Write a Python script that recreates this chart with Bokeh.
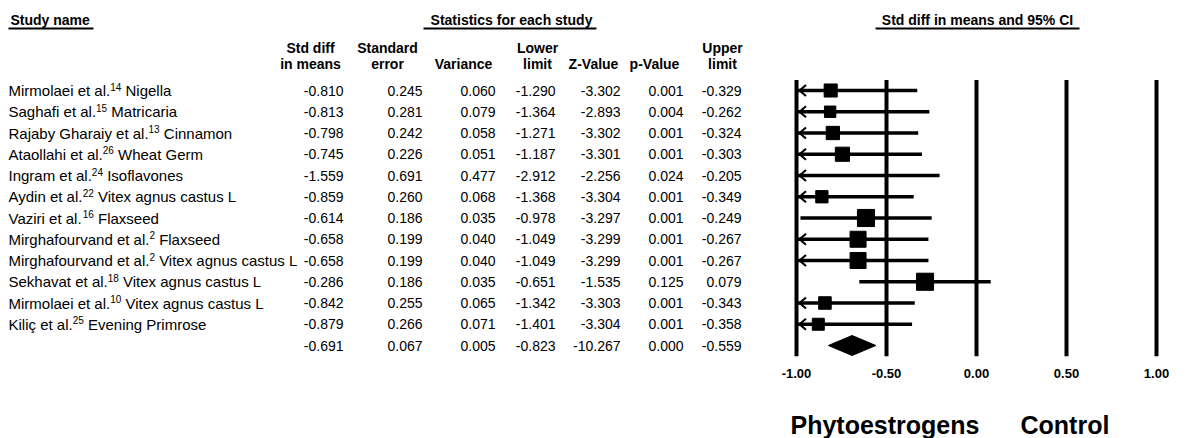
import math
from bokeh.plotting import figure
from bokeh.models import Range1d
from bokeh.core.properties import value
from bokeh.embed import file_html
from bokeh.resources import INLINE

# ---------------- data ----------------
study_authors = [
    "Mirmolaei et al.", "Saghafi et al.", "Rajaby Gharaiy et al.", "Ataollahi et al.",
    "Ingram et al.", "Aydin et al.", "Vaziri et al.", "Mirghafourvand et al.",
    "Mirghafourvand et al.", "Sekhavat et al.", "Mirmolaei et al.", "Kili\u00e7 et al.",
]
study_refs = ["14", "15", "13", "26", "24", "22", "16", "2", "2", "18", "10", "25"]
study_agents = [
    "Nigella", "Matricaria", "Cinnamon", "Wheat Germ", "Isoflavones",
    "Vitex agnus castus L", "Flaxseed", "Flaxseed", "Vitex agnus castus L",
    "Vitex agnus castus L", "Vitex agnus castus L", "Evening Primrose",
]
std_diff = [-0.810, -0.813, -0.798, -0.745, -1.559, -0.859, -0.614, -0.658, -0.658, -0.286, -0.842, -0.879]
std_err = [0.245, 0.281, 0.242, 0.226, 0.691, 0.260, 0.186, 0.199, 0.199, 0.186, 0.255, 0.266]
variance = [0.060, 0.079, 0.058, 0.051, 0.477, 0.068, 0.035, 0.040, 0.040, 0.035, 0.065, 0.071]
lower_limit = [-1.290, -1.364, -1.271, -1.187, -2.912, -1.368, -0.978, -1.049, -1.049, -0.651, -1.342, -1.401]
z_value = [-3.302, -2.893, -3.302, -3.301, -2.256, -3.304, -3.297, -3.299, -3.299, -1.535, -3.303, -3.304]
p_value = [0.001, 0.004, 0.001, 0.001, 0.024, 0.001, 0.001, 0.001, 0.001, 0.125, 0.001, 0.001]
upper_limit = [-0.329, -0.262, -0.324, -0.303, -0.205, -0.349, -0.249, -0.267, -0.267, 0.079, -0.343, -0.358]

summary_std_diff = -0.691
summary_std_err = 0.067
summary_variance = 0.005
summary_lower = -0.823
summary_z = -10.267
summary_p = 0.000
summary_upper = -0.559

ticks = [-1.0, -0.5, 0.0, 0.5, 1.0]
header_line1 = ["Std diff", "Standard", "", "Lower", "", "", "Upper"]
header_line2 = ["in means", "error", "Variance", "limit", "Z-Value", "p-Value", "limit"]
section_titles = ["Study name", "Statistics for each study", "Std diff in means and 95% CI"]
bottom_labels = ["Phytoestrogens", "Control"]

# ---------------- layout constants ----------------
W, H = 1195, 438
OX, OY = 0, 0
X_AT_MIN = 796.0      # page px of first tick
PX_PER_UNIT = 180.0
ROW0_Y = 90.0
ROW_STEP = 21.25
NAME_PX = 15.0
SUP_PX = 10.0

FONT = value("Liberation Sans")
BLACK = "#000000"

# Arial / Liberation Sans advance widths (per 1000 em) for measuring name prefixes
ARIAL_W = {
    "M": 833, "i": 222, "r": 333, "m": 833, "o": 556, "l": 222, "a": 556, "e": 556,
    "t": 278, " ": 278, ".": 278, "S": 667, "g": 556, "h": 556, "f": 278, "R": 722,
    "j": 222, "b": 556, "y": 500, "G": 778, "A": 667, "I": 278, "n": 556, "d": 556,
    "V": 667, "z": 500, "k": 500, "v": 500, "K": 667, "\u00e7": 500, "u": 556,
    "0": 556, "1": 556, "2": 556, "3": 556, "4": 556, "5": 556, "6": 556, "7": 556,
    "8": 556, "9": 556,
}


def text_width(s, size):
    return sum(ARIAL_W.get(c, 556) for c in s) * size / 1000.0


x_min = ticks[0]
xr = Range1d(x_min + (OX - X_AT_MIN) / PX_PER_UNIT, x_min + (OX + W - X_AT_MIN) / PX_PER_UNIT)
yr = Range1d((OY + H - ROW0_Y) / ROW_STEP, (OY - ROW0_Y) / ROW_STEP)

p = figure(width=W, height=H, x_range=xr, y_range=yr, output_backend="svg",
           toolbar_location=None, x_axis_location=None, y_axis_location=None,
           min_border=0, outline_line_color=None,
           background_fill_color="white", border_fill_color="white")
p.xgrid.grid_line_color = None
p.ygrid.grid_line_color = None
p.extra_x_ranges = {"px": Range1d(OX, OX + W)}
p.extra_y_ranges = {"py": Range1d(OY + H, OY)}

n = len(std_diff)
rows = list(range(n))

# ---------------- section titles ----------------
title_x = [10, 511, 977]
title_align = ["left", "center", "center"]
for t, x, a in zip(section_titles, title_x, title_align):
    p.text(x=[x], y=[19], text=[t], x_range_name="px", y_range_name="py",
           text_font=FONT, text_font_style="bold", text_font_size=value("14px"),
           text_align=a, text_baseline="middle", text_color=BLACK)
p.segment(x0=[8, 423, 875], x1=[93, 596, 1079], y0=[28, 28, 28], y1=[28, 28, 28],
          x_range_name="px", y_range_name="py", line_width=2, line_color=BLACK)

# ---------------- column headers ----------------
col_center_x = [310, 387, 463, 537, 593, 654, 722]
col_right_x = [343, 422, 495, 555, 620, 683, 741]
p.text(x=col_center_x, y=[47] * 7, text=header_line1, x_range_name="px", y_range_name="py",
       text_font=FONT, text_font_style="bold", text_font_size=value("14px"),
       text_align="center", text_baseline="middle", text_color=BLACK)
p.text(x=col_center_x, y=[63] * 7, text=header_line2, x_range_name="px", y_range_name="py",
       text_font=FONT, text_font_style="bold", text_font_size=value("14px"),
       text_align="center", text_baseline="middle", text_color=BLACK)

# ---------------- study names (author + superscript ref + agent) ----------------
name_x0 = 8.0
auth_x = [name_x0] * n
sup_x = [name_x0 + text_width(a, NAME_PX) for a in study_authors]
agent_x = [sx + text_width(r, SUP_PX) + text_width(" ", NAME_PX)
           for sx, r in zip(sup_x, study_refs)]
p.text(x=auth_x, y=rows, text=study_authors, x_range_name="px",
       text_font=FONT, text_font_size=value("15px"),
       text_align="left", text_baseline="middle", text_color=BLACK)
p.text(x=sup_x, y=rows, text=study_refs, x_range_name="px", y_offset=-4,
       text_font=FONT, text_font_size=value("10px"),
       text_align="left", text_baseline="middle", text_color=BLACK)
p.text(x=agent_x, y=rows, text=study_agents, x_range_name="px",
       text_font=FONT, text_font_size=value("15px"),
       text_align="left", text_baseline="middle", text_color=BLACK)

# ---------------- numeric columns ----------------
columns = [
    std_diff + [summary_std_diff],
    std_err + [summary_std_err],
    variance + [summary_variance],
    lower_limit + [summary_lower],
    z_value + [summary_z],
    p_value + [summary_p],
    upper_limit + [summary_upper],
]
for cx, vals in zip(col_right_x, columns):
    p.text(x=[cx] * len(vals), y=list(range(len(vals))), text=[f"{v:.3f}" for v in vals],
           x_range_name="px", text_font=FONT, text_font_size=value("14px"),
           text_align="right", text_baseline="middle", text_color=BLACK)

# ---------------- forest plot ----------------
p.segment(x0=ticks, x1=ticks, y0=[-0.5] * len(ticks), y1=[n + 0.5] * len(ticks),
          line_width=4, line_color=BLACK)

ci_x0 = [max(lo, x_min) for lo in lower_limit]
p.segment(x0=ci_x0, x1=upper_limit, y0=rows, y1=rows, line_width=3.5, line_color=BLACK)

tip_dx = 3.0 / PX_PER_UNIT
arm_dx = 6.5 / PX_PER_UNIT
arm_dy = 5.5 / ROW_STEP
arr_rows = [i for i in rows if lower_limit[i] < x_min]
ax0, ax1, ay0, ay1 = [], [], [], []
for i in arr_rows:
    for s in (-1, 1):
        ax0.append(x_min + tip_dx)
        ay0.append(i)
        ax1.append(x_min + tip_dx + arm_dx)
        ay1.append(i + s * arm_dy)
p.segment(x0=ax0, x1=ax1, y0=ay0, y1=ay1, line_width=2.2, line_color=BLACK)

sq_x, sq_y, sq_s = [], [], []
for i in rows:
    if std_diff[i] >= x_min:
        sq_x.append(std_diff[i])
        sq_y.append(i)
        sq_s.append(3.2 * math.sqrt(1.0 / variance[i]))
p.scatter(x=sq_x, y=sq_y, size=sq_s, marker="square", fill_color=BLACK, line_color=BLACK)

dh = 10.0 / ROW_STEP
p.patch(x=[summary_lower, summary_std_diff, summary_upper, summary_std_diff],
        y=[n, n - dh, n, n + dh], fill_color=BLACK, line_color=BLACK)

p.text(x=ticks, y=[373] * len(ticks), text=[f"{t:.2f}" for t in ticks], y_range_name="py",
       text_font=FONT, text_font_style="bold", text_font_size=value("13px"),
       text_align="center", text_baseline="middle", text_color=BLACK)

p.text(x=[790, 1020], y=[424, 424], text=bottom_labels, x_range_name="px", y_range_name="py",
       text_font=FONT, text_font_style="bold", text_font_size=value("25px"),
       text_align="left", text_baseline="middle", text_color=BLACK)

open("out.html", "w", encoding="utf-8").write(file_html(p, INLINE))
